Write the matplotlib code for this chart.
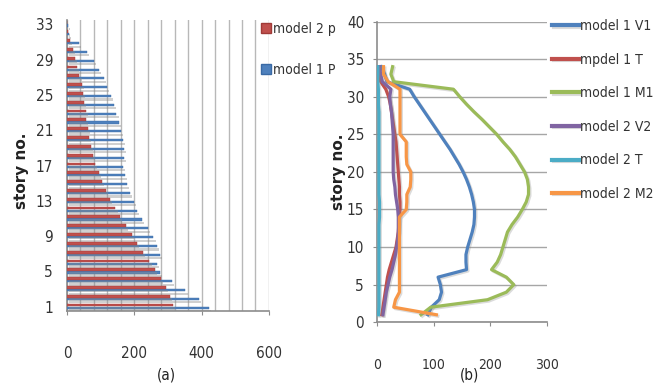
import matplotlib
matplotlib.use('Agg')
import matplotlib.pyplot as plt
import numpy as np
from matplotlib.lines import Line2D
from matplotlib.ticker import MultipleLocator
import matplotlib.patheffects as pe

NARROW = dict(family='DejaVu Sans', stretch='condensed')

# ---- panel (a) data ----
stories_a = list(range(1, 34))
a_ticks = [1, 5, 9, 13, 17, 21, 25, 29, 33]
model2_p = [315, 307, 295, 278, 261, 245, 226, 208, 192, 175, 158, 144, 129, 116, 104,
            94, 83, 76, 70, 64, 61, 57, 55, 50, 48, 44, 37, 30, 24, 17, 9, 2, 0]
model1_P = [422, 393, 352, 312, 277, 267, 277, 268, 257, 240, 223, 208, 198, 187, 179,
            172, 167, 168, 168, 165, 160, 154, 147, 139, 130, 120, 109, 94, 79, 58, 35, 7, 3]

# ---- panel (b) data ----
stories_b = list(range(1, 35))
model1_V1 = [90, 96, 110, 114, 112, 108, 158, 157, 157, 160, 164, 168, 171, 172, 172, 170, 167,
             163, 158, 152, 145, 137, 129, 120, 111, 102, 93, 84, 75, 66, 58, 18, 14, 8]
mpdel1_T = [9, 11, 13, 15, 17, 19, 22, 26, 30, 34, 36, 38, 39, 40, 41, 41, 40, 40, 39, 38, 37,
            36, 35, 34, 32, 30, 28, 26, 24, 21, 16, 7, 4, 3]
model1_M1 = [78, 95, 195, 228, 241, 228, 202, 212, 218, 222, 226, 230, 238, 248, 256, 263, 267,
             267, 265, 260, 252, 244, 234, 222, 211, 198, 185, 171, 158, 146, 135, 30, 25, 28]
model2_V2 = [11, 13, 15, 17, 20, 23, 27, 30, 33, 35, 37, 38, 38, 38, 37, 35, 33, 32, 30, 29, 29,
             29, 29, 29, 29, 28, 27, 26, 24, 23, 25, 10, 7, 5]
model2_T = [3, 4, 4, 4, 4, 4, 4, 4, 4, 4, 4, 4, 4, 5, 5, 5, 4, 4, 4, 4, 4, 4, 4, 4, 4, 4, 4, 4,
            3, 3, 3, 2, 2, 2]
model2_M2 = [105, 30, 33, 40, 40, 40, 40, 40, 40, 40, 40, 40, 40, 40, 52, 53, 53, 59, 60, 60, 53,
             52, 52, 52, 41, 41, 41, 41, 41, 41, 41, 20, 12, 12]

fig = plt.figure(figsize=(6.62, 3.85), dpi=100)

# ================= panel (a) =================
axa = fig.add_axes([0.1012, 0.192, 0.305, 0.756])
y = np.array(stories_a, dtype=float)
shadow = [pe.SimplePatchShadow(offset=(1.5, -2.5), shadow_rgbFace='#8a8a8a', alpha=0.4), pe.Normal()]
axa.barh(y - 0.12, model1_P, height=0.24, color='#4F81BD', edgecolor='#3a6aa5', linewidth=0.3,
         path_effects=shadow, zorder=3)
axa.barh(y + 0.18, model2_p, height=0.32, color='#C0504D', edgecolor='#A03a37', linewidth=0.3,
         path_effects=shadow, zorder=4)
axa.set_xlim(0, 600)
axa.set_ylim(0.5, 33.5)
axa.set_xticks([0, 200, 400, 600])
axa.xaxis.set_minor_locator(MultipleLocator(40))
axa.grid(True, axis='x', which='both', color='#b8b8b8', linewidth=1.0, zorder=0)
axa.set_axisbelow(True)
axa.set_yticks(a_ticks)
axa.set_yticklabels([str(t) for t in a_ticks])
for s in ['top', 'right']:
    axa.spines[s].set_visible(False)
for s in ['left', 'bottom']:
    axa.spines[s].set_color('#8c8c8c')
    axa.spines[s].set_linewidth(1.2)
axa.tick_params(axis='x', which='major', length=3, color='#8c8c8c', pad=22, labelsize=11)
axa.tick_params(axis='x', which='minor', length=0)
axa.tick_params(axis='y', length=0, pad=10, labelsize=11)
for lab in axa.get_xticklabels() + axa.get_yticklabels():
    lab.set_fontfamily(NARROW['family'])
    lab.set_fontstretch(NARROW['stretch'])
    lab.set_color('#333333')

ha = [Line2D([], [], linestyle='none', marker='s', markersize=7, markerfacecolor='#C0504D',
             markeredgecolor='#A03a37'),
      Line2D([], [], linestyle='none', marker='s', markersize=7, markerfacecolor='#4F81BD',
             markeredgecolor='#3a6aa5')]
leg_a = fig.legend(ha, ['model 2 p', 'model 1 P'], loc='upper left',
                   bbox_to_anchor=(0.376, 0.975), frameon=False, handlelength=0.6,
                   handletextpad=0.25, labelspacing=1.95,
                   prop={'family': NARROW['family'], 'stretch': NARROW['stretch'], 'size': 10})
for t in leg_a.get_texts():
    t.set_color('#333333')

fig.text(0.033, 0.556, 'story no.', rotation=90, ha='center', va='center',
         fontsize=11, fontweight='bold', family='DejaVu Sans', color='#222222')
fig.text(0.252, 0.025, '(a)', ha='center', va='center', fontsize=11, color='#222222', **NARROW)

# ================= panel (b) =================
axb = fig.add_axes([0.569, 0.163, 0.2577, 0.781])
series = [('model 1 V1', model1_V1, '#4F81BD'),
          ('mpdel 1 T', mpdel1_T, '#C0504D'),
          ('model 1 M1', model1_M1, '#9BBB59'),
          ('model 2 V2', model2_V2, '#8064A2'),
          ('model 2 T', model2_T, '#4BACC6'),
          ('model 2 M2', model2_M2, '#F79646')]
lshadow = [pe.SimpleLineShadow(offset=(1, -1), shadow_color='#888888', alpha=0.3), pe.Normal()]
for name, vals, col in series:
    axb.plot(vals, stories_b, color=col, linewidth=2.3, label=name, solid_joinstyle='round',
             path_effects=lshadow, zorder=3)
axb.set_xlim(0, 300)
axb.set_ylim(0, 40)
axb.set_xticks([0, 100, 200, 300])
axb.set_yticks(range(0, 41, 5))
axb.grid(True, axis='y', color='#a6a6a6', linewidth=1.0, zorder=0)
axb.set_axisbelow(True)
for s in ['top', 'right']:
    axb.spines[s].set_visible(False)
for s in ['left', 'bottom']:
    axb.spines[s].set_color('#8c8c8c')
    axb.spines[s].set_linewidth(1.2)
axb.tick_params(axis='x', length=3, color='#8c8c8c', pad=23, labelsize=10)
axb.tick_params(axis='y', length=3, color='#8c8c8c', pad=6, labelsize=11)
for lab in axb.get_xticklabels() + axb.get_yticklabels():
    lab.set_fontfamily(NARROW['family'])
    lab.set_fontstretch(NARROW['stretch'])
    lab.set_color('#333333')

leg_b = axb.legend(loc='upper left', bbox_to_anchor=(0.826, 0.965),
                   bbox_transform=fig.transFigure, frameon=False, handlelength=1.9,
                   handletextpad=0.1, labelspacing=1.41, borderaxespad=0,
                   prop={'family': NARROW['family'], 'stretch': NARROW['stretch'], 'size': 10})
for t in leg_b.get_texts():
    t.set_color('#333333')
for l in leg_b.get_lines():
    l.set_linewidth(3)

fig.text(0.511, 0.553, 'story no.', rotation=90, ha='center', va='center',
         fontsize=11, fontweight='bold', family='DejaVu Sans', color='#222222')
fig.text(0.71, 0.025, '(b)', ha='center', va='center', fontsize=11, color='#222222', **NARROW)

fig.savefig('out.png', dpi=100)
